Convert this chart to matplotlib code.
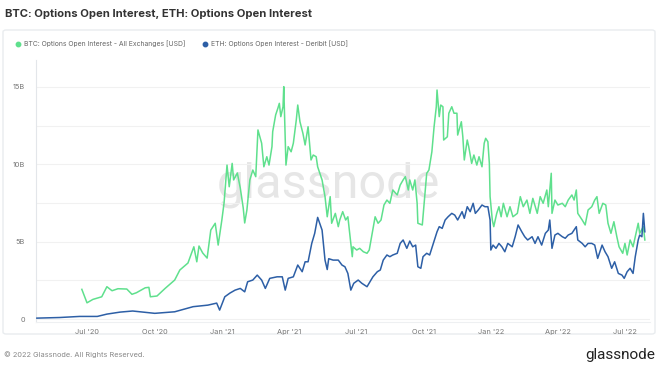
import matplotlib
matplotlib.use("Agg")
import matplotlib.pyplot as plt
from matplotlib.patches import FancyBboxPatch
import pandas as pd
import numpy as np

base_date = "2020-07-01"

# days since base_date, BTC options OI (all exchanges), billions USD
btc_days = [-7, 0, 8, 20, 27, 34, 42, 54, 61, 67, 79, 84, 86, 95, 106, 119, 126, 137, 145, 149,
            152, 157, 163, 168, 174, 178, 183, 186, 190, 193, 197, 199, 204, 208, 212, 214, 217, 221, 225, 229,
            232, 237, 240, 244, 247, 251, 252, 256, 259, 261, 263, 266, 267, 270, 273, 277, 280, 284, 286, 289,
            293, 296, 300, 304, 307, 311, 313, 319, 323, 326, 330, 332, 337, 341, 343, 347, 351, 354, 357, 360,
            361, 366, 370, 375, 380, 383, 387, 391, 395, 399, 403, 407, 411, 415, 421, 425, 429, 432, 436, 438,
            442, 445, 448, 449, 455, 459, 461, 464, 468, 471, 474, 475, 478, 480, 483, 484, 489, 491, 495, 498,
            502, 503, 508, 510, 512, 516, 518, 522, 525, 529, 532, 536, 539, 541, 544, 546, 547, 550, 552, 556,
            559, 562, 565, 570, 574, 578, 584, 588, 592, 597, 601, 605, 611, 615, 619, 624, 626, 630, 631, 635,
            639, 645, 649, 653, 658, 661, 664, 666, 672, 676, 680, 685, 689, 692, 695, 700, 704, 707, 711, 715,
            719, 722, 727, 730, 733, 737, 741, 744, 748, 750, 755, 757]
btc_oi = [1.92, 1.05, 1.27, 1.44, 2.09, 1.83, 1.96, 1.94, 1.60, 1.70, 2.02, 2.05, 1.44, 1.49, 1.98, 2.52, 3.17, 3.62, 4.67, 3.70,
          4.72, 4.27, 3.94, 5.75, 6.19, 4.78, 6.40, 7.50, 9.95, 8.55, 10.06, 8.99, 9.44, 8.47, 7.18, 6.21, 7.05, 8.99, 9.63, 9.20,
          12.22, 11.36, 9.84, 10.49, 9.95, 11.14, 12.11, 13.19, 13.62, 13.94, 13.08, 13.72, 15.02, 9.95, 11.14, 10.81, 11.36, 12.86, 13.83, 12.75,
          12.00, 11.25, 12.43, 10.28, 10.60, 10.49, 9.84, 8.99, 7.91, 6.61, 7.91, 6.19, 6.83, 5.97, 6.40, 6.94, 6.40, 6.61, 5.32, 4.03,
          4.67, 4.46, 4.57, 4.35, 4.25, 4.46, 5.54, 6.61, 6.19, 6.40, 7.37, 7.69, 7.48, 8.34, 8.02, 8.66, 8.99, 9.20, 8.34, 8.99,
          8.34, 8.99, 7.48, 6.19, 6.08, 8.34, 9.42, 9.63, 10.81, 12.43, 13.72, 14.80, 13.08, 13.83, 13.72, 11.57, 11.78, 13.30, 13.72, 13.30,
          13.30, 11.89, 12.75, 11.78, 10.28, 11.57, 11.14, 10.06, 10.60, 9.95, 10.49, 9.84, 11.36, 11.68, 11.46, 10.06, 7.91, 6.40, 5.97, 6.83,
          7.26, 6.61, 7.48, 6.61, 7.26, 6.61, 6.83, 7.91, 7.26, 7.69, 6.83, 7.80, 6.83, 7.91, 7.48, 8.34, 7.26, 9.42, 6.83, 7.69,
          7.37, 7.48, 7.26, 7.69, 8.02, 7.69, 8.34, 6.83, 6.40, 6.08, 7.05, 7.26, 7.69, 7.91, 6.83, 7.48, 7.37, 6.19, 5.54, 6.29,
          5.32, 4.67, 4.25, 4.89, 4.14, 5.11, 4.67, 5.32, 6.19, 5.54, 5.97, 5.11]

# days since base_date, ETH options OI (Deribit), billions USD
eth_days = [-68, -37, -10, 14, 27, 45, 62, 76, 92, 119, 144, 164, 176, 180, 187, 194, 201, 208, 214, 218,
            225, 231, 237, 242, 248, 258, 265, 269, 273, 280, 286, 292, 296, 300, 305, 309, 313, 319, 323, 326,
            328, 334, 341, 346, 350, 354, 358, 362, 368, 373, 380, 384, 388, 394, 398, 402, 407, 411, 415, 421,
            425, 429, 434, 438, 442, 446, 449, 453, 456, 461, 465, 470, 475, 478, 482, 486, 490, 495, 499, 503,
            509, 512, 516, 520, 524, 527, 531, 536, 540, 544, 547, 548, 551, 555, 559, 563, 567, 571, 577, 581,
            585, 590, 594, 598, 604, 608, 612, 617, 622, 626, 628, 631, 635, 639, 645, 649, 653, 658, 664, 666,
            672, 676, 680, 685, 689, 693, 699, 703, 707, 712, 716, 721, 726, 729, 733, 737, 741, 744, 748, 750,
            753, 755, 757]
eth_oi = [0.06, 0.10, 0.17, 0.17, 0.32, 0.45, 0.52, 0.45, 0.37, 0.47, 0.80, 0.90, 1.03, 0.58, 1.44, 1.68, 1.87, 1.98, 1.76, 2.41,
          2.52, 2.84, 2.52, 1.98, 2.63, 2.73, 2.73, 1.87, 2.63, 2.73, 3.49, 3.06, 3.70, 3.70, 4.89, 5.54, 6.57, 5.75, 3.81, 3.20,
          3.90, 3.81, 3.81, 3.49, 3.38, 2.95, 1.87, 2.31, 2.52, 2.31, 2.09, 2.41, 2.73, 3.06, 3.17, 3.81, 4.14, 4.03, 4.14, 4.25,
          4.89, 5.11, 4.57, 5.04, 4.67, 4.78, 3.38, 3.28, 4.03, 4.25, 4.14, 4.89, 5.64, 5.97, 5.86, 6.40, 6.61, 6.83, 6.72, 6.40,
          6.94, 6.51, 7.26, 6.94, 7.48, 6.83, 7.05, 7.37, 7.26, 7.26, 6.40, 4.46, 4.78, 4.57, 4.89, 4.67, 4.35, 4.89, 4.67, 5.32,
          6.08, 5.64, 5.32, 5.11, 5.32, 4.89, 5.32, 4.78, 5.54, 5.75, 6.40, 4.57, 5.43, 5.54, 5.32, 5.22, 5.43, 5.54, 5.97, 5.11,
          4.89, 4.67, 4.89, 4.89, 4.78, 3.92, 4.78, 4.35, 4.03, 3.28, 3.70, 2.95, 2.84, 2.63, 3.06, 3.28, 2.95, 4.03, 5.11, 5.43,
          5.32, 6.83, 5.64]

y_ticks = [0, 2.5, 5, 7.5, 10, 12.5, 15]
y_tick_labels = ["0", "", "5B", "", "10B", "", "15B"]
x_tick_dates = ["2020-07-01", "2020-10-01", "2021-01-01", "2021-04-01", "2021-07-01",
                "2021-10-01", "2022-01-01", "2022-04-01", "2022-07-01"]
x_tick_labels = ["Jul '20", "Oct '20", "Jan '21", "Apr '21", "Jul '21", "Oct '21", "Jan '22", "Apr '22", "Jul '22"]

title = "BTC: Options Open Interest, ETH: Options Open Interest"
btc_label = "BTC: Options Open Interest - All Exchanges [USD]"
eth_label = "ETH: Options Open Interest - Deribit [USD]"

GREEN = "#5fe08d"
BLUE = "#2d5fa6"
FONT = ["Inter", "Roboto", "DejaVu Sans"]
plt.rcParams["font.family"] = FONT

W, H = 660, 368
fig = plt.figure(figsize=(W / 100, H / 100), dpi=100)
fig.patch.set_facecolor("white")

def fx(px):
    return px / W

def fy(py):
    return 1 - py / H

# panel border (behind everything)
panel = FancyBboxPatch((fx(3), fy(334)), fx(652), (334 - 30) / H,
                       boxstyle="round,pad=0,rounding_size=0.005",
                       transform=fig.transFigure, facecolor="none",
                       edgecolor="#e9ecef", linewidth=1.0, zorder=-10)
fig.patches.append(panel)

# axes: left 36, right 650, top 60, bottom 322
ax = fig.add_axes([fx(36), fy(322), fx(650 - 36), (322 - 60) / H], zorder=2)
ax.set_facecolor("none")

base = pd.Timestamp(base_date)
btc_x = base + pd.to_timedelta(btc_days, unit="D")
eth_x = base + pd.to_timedelta(eth_days, unit="D")

ax.plot(btc_x, btc_oi, color=GREEN, lw=1.1, zorder=3)
ax.plot(eth_x, eth_oi, color=BLUE, lw=1.1, zorder=4)

ax.set_xlim(base + pd.Timedelta(days=-69.2), base + pd.Timedelta(days=764))
ax.set_ylim(-0.19, 16.74)

ax.set_yticks(y_ticks)
ax.set_yticklabels(y_tick_labels)
ax.grid(axis="y", color="#f1f1f1", lw=0.8)
ax.tick_params(axis="y", length=0, labelsize=5.3, labelcolor="#777777", pad=8)

ax.set_xticks(pd.to_datetime(x_tick_dates))
ax.set_xticklabels(x_tick_labels)
ax.tick_params(axis="x", length=0, labelsize=5.3, labelcolor="#777777", pad=5)

for s in ["top", "right"]:
    ax.spines[s].set_visible(False)
ax.spines["left"].set_color("#e3e6ea")
ax.spines["bottom"].set_color("#eef0f2")
ax.spines["left"].set_linewidth(0.8)
ax.spines["bottom"].set_linewidth(0.8)

# watermark
fig.text(fx(328), fy(185), "glassnode", fontsize=35, color="#e6e6e6",
         ha="center", va="center", family=["Roboto", "DejaVu Sans"], zorder=1)

# title
fig.text(fx(5), fy(14), title, fontsize=8.1, fontweight="bold", color="#333333",
         ha="left", va="center")

# legend
fig.lines.append(plt.Line2D([fx(18)], [fy(44)], marker="o", ms=3.2, color=GREEN,
                            transform=fig.transFigure, lw=0))
fig.text(fx(24), fy(44), btc_label, fontsize=4.9, color="#666666", ha="left", va="center")
fig.lines.append(plt.Line2D([fx(205)], [fy(44)], marker="o", ms=3.2, color=BLUE,
                            transform=fig.transFigure, lw=0))
fig.text(fx(211), fy(44), eth_label, fontsize=4.9, color="#666666", ha="left", va="center")

# footer
fig.text(fx(4), fy(355), "© 2022 Glassnode. All Rights Reserved.", fontsize=5.3,
         color="#888888", ha="left", va="center")
fig.text(fx(655), fy(355), "glassnode", fontsize=11, color="#222222",
         ha="right", va="center", family=["Roboto", "DejaVu Sans"])

fig.savefig("out.png", dpi=100, facecolor="white")
